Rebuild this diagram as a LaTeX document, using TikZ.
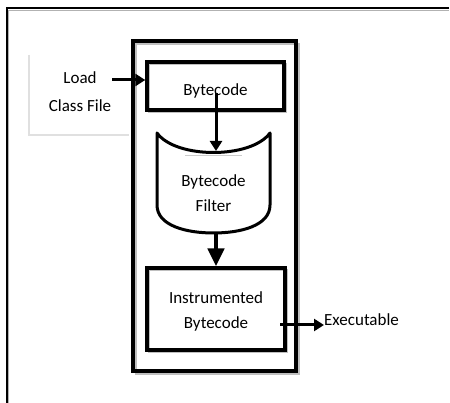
\documentclass[tikz,border=0pt]{standalone}
\usepackage{fontspec}
\setmainfont{Carlito}
\usetikzlibrary{arrows.meta}
\begin{document}
\begin{tikzpicture}[x=1pt,y=-1pt,
  every node/.style={font=\fontsize{17}{25}\selectfont, align=center, inner sep=0pt},
  boxline/.style={draw=black, line width=3.4pt},
  shadowline/.style={draw=black!25, line width=1.5pt},
  flow/.style={line width=3pt, -{Triangle[length=10pt,width=12pt]}},
  bigflow/.style={line width=4.5pt, -{Triangle[length=18pt,width=16pt]}}]
\useasboundingbox (0,0) rectangle (450,403);
\fill[white] (0,0) rectangle (450,403);

% page frame (only top and left edges are visible)
\draw[black!30, line width=1pt] (9,10.5) -- (449,10.5);
\draw[black!30, line width=1pt] (8.5,10.5) -- (8.5,403);
\draw[line width=2pt] (449,8) -- (6.5,8) -- (6.5,403);

% light source box
\draw[black!12, line width=1.5pt] (29,55) -- (29,135) -- (129,135);

% outer container
\draw[shadowline] (136,44) rectangle (299,374);
\draw[boxline] (133,41) rectangle (296,371);

% boxes
\draw[shadowline] (149,64) rectangle (286,112);
\node[boxline, minimum width=137pt, minimum height=48pt] (bc) at (215.5,86) {};
\node (bctext) at (215.5,91) {Bytecode};

\draw[shadowline] (149,270) rectangle (287,352);
\node[boxline, minimum width=138pt, minimum height=82pt] (ib) at (216,309) {};
\node (ibtext) at (216,311) {Instrumented\\Bytecode};

% bytecode filter drum
\draw[line width=3pt, line join=round]
  (157,133) .. controls (176,159) and (251,159) .. (270,133)
  -- (270,205) .. controls (270,226) and (240,233) .. (213.5,233)
  .. controls (187,233) and (157,226) .. (157,205) -- cycle;
\draw[black!20, line width=1pt] (185,156) -- (242,156);
\node (filter) at (213.5,193) {Bytecode\\Filter};
\coordinate (filtertop) at (216,151);
\coordinate (filterbot) at (216,234);

% labels outside
\node (load) at (80,92) {\parbox{90pt}{\centering\fontsize{17}{28}\selectfont Load\\Class File}};
\node[anchor=west] (exe) at (324,320) {Executable};

% connectors
\coordinate (loadend) at (112,80);
\draw[flow] (loadend) -- (bc.west |- loadend);
\draw[flow] (216,93) -- (filtertop);
\draw[bigflow] (filterbot) -- (ib.north -| filterbot);
\draw[flow] (280,325) -- (exe.west |- 0,325);
\end{tikzpicture}
\end{document}
